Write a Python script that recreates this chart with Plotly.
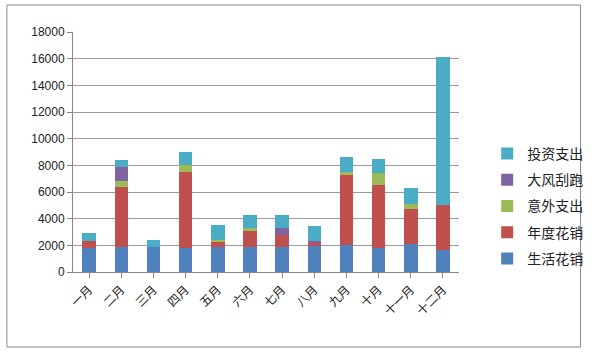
import plotly.graph_objects as go

months = ["一月", "二月", "三月", "四月", "五月", "六月", "七月", "八月", "九月", "十月", "十一月", "十二月"]
living = [1800, 1900, 1900, 1800, 1900, 1900, 1850, 1950, 2000, 1800, 2100, 1650]
annual = [500, 4500, 0, 5700, 400, 1200, 950, 250, 5300, 4700, 2600, 3350]
accident = [0, 400, 0, 500, 100, 200, 0, 0, 200, 900, 400, 0]
wind = [0, 1100, 0, 0, 0, 0, 500, 150, 0, 0, 0, 0]
invest = [600, 500, 500, 1000, 1100, 1000, 1000, 1100, 1100, 1100, 1200, 11100]

series = [
    ("生活花销", living, "#4F81BD"),
    ("年度花销", annual, "#C0504D"),
    ("意外支出", accident, "#9BBB59"),
    ("大风刮跑", wind, "#8064A2"),
    ("投资支出", invest, "#4BACC6"),
]

fig = go.Figure()
n = len(series)
for i, (name, vals, color) in enumerate(series):
    fig.add_trace(go.Bar(x=months, y=vals, name=name, legendgroup=name, legendrank=1000 + n - i,
                         marker=dict(color=color, line=dict(width=0))))

L, R, T, B = 73, 130, 32, 80
W = 600 - L - R
H = 352 - T - B

def px(xp):
    return (xp - L) / W

def py(yp):
    return (352 - B - yp) / H

fig.update_layout(
    width=600, height=352,
    margin=dict(l=L, r=R, t=T, b=B),
    barmode="stack", bargap=0.58,
    paper_bgcolor="white", plot_bgcolor="white",
    font=dict(family="Noto Sans CJK SC, Liberation Sans, sans-serif", size=12, color="#222"),
    showlegend=True,
    legend=dict(traceorder="grouped", x=px(499), xanchor="left", y=py(206), yanchor="middle",
                font=dict(size=14), bgcolor="rgba(0,0,0,0)", itemwidth=30, tracegroupgap=5),
    xaxis=dict(tickangle=-45, showline=True, linecolor="#888", ticks="outside", ticklen=5,
               tickcolor="#888", tickfont=dict(size=12), showgrid=False),
    yaxis=dict(range=[0, 18000], dtick=2000, tickformat="d", showline=True, linecolor="#888",
               ticks="outside", ticklen=5, tickcolor="#888", gridcolor="#999", gridwidth=1,
               tickfont=dict(family="Liberation Sans, sans-serif", size=12), zeroline=False),
    shapes=[dict(type="rect", xref="paper", yref="paper", x0=px(5), x1=px(595), y0=py(347), y1=py(5),
                 line=dict(color="#888", width=1))],
)

fig.write_html("out.html")
